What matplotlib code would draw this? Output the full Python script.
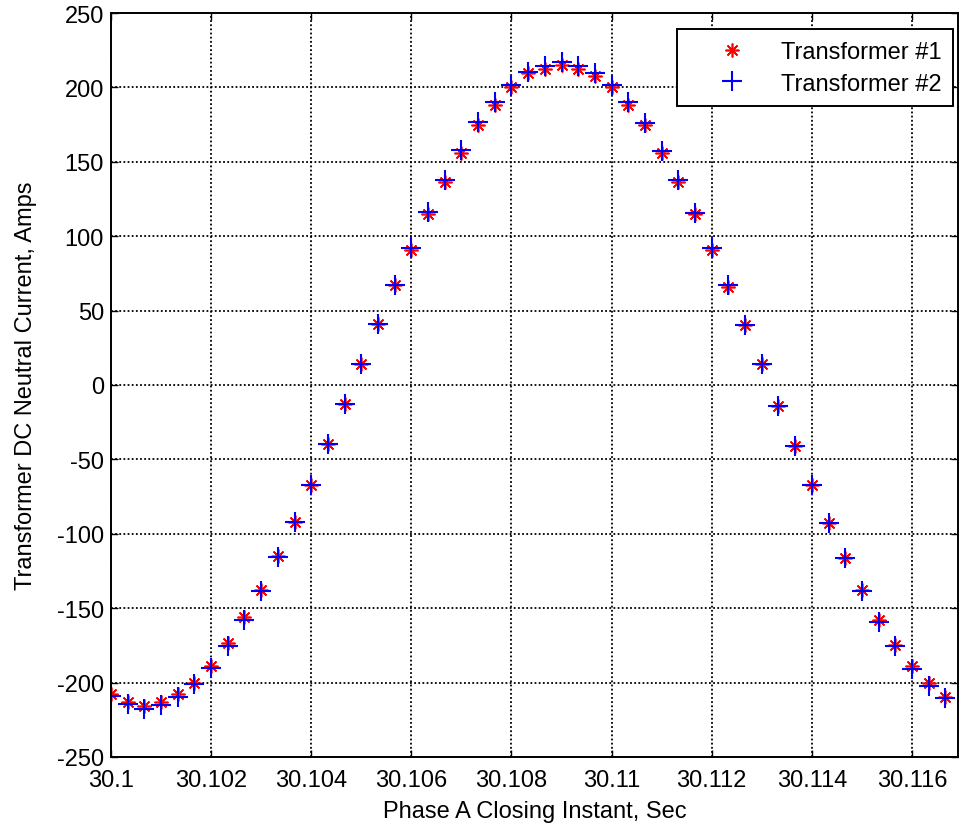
import numpy as np
import matplotlib
matplotlib.use("Agg")
import matplotlib.pyplot as plt

# closing instant, one sample every 1/3000 s over one 60 Hz cycle
t_start = 30.1
n_pts = 51
dt = 1.0 / 3000
closing_instant = t_start + dt * np.arange(n_pts)

# values (Amps)
xfmr1 = [-208, -213, -216, -213, -208, -200.5, -189, -173.5, -156, -138,
         -115, -92, -67, -40, -13, 14, 41, 67, 91, 115,
         136.5, 156, 174.5, 188, 200, 209.5, 212.5, 215, 212.5, 208,
         200, 188.5, 174.5, 156, 136.5, 115, 91, 66, 40, 14,
         -14, -41, -67.5, -93, -116.5, -138, -158, -174.5, -189, -200.5,
         -209.5]
xfmr2 = [-209, -214.5, -217.5, -215, -209.5, -201, -190, -175.5, -158, -138.5,
         -115.5, -92, -67, -40, -13, 14, 41, 67.5, 92, 116.5,
         138, 158, 176.5, 190, 201.5, 210.5, 214.5, 217, 214.5, 210,
         201.5, 190, 176, 157.5, 138, 115.5, 92, 67, 40, 14,
         -14, -41, -67.5, -93, -116.5, -138.5, -159, -175.5, -191, -202,
         -210.5]

xticks = [30.1, 30.102, 30.104, 30.106, 30.108, 30.11, 30.112, 30.114, 30.116]
xtick_labels = ["30.1", "30.102", "30.104", "30.106", "30.108", "30.11",
                "30.112", "30.114", "30.116"]
yticks = [-250, -200, -150, -100, -50, 0, 50, 100, 150, 200, 250]

fs = 17
plt.rcParams['font.family'] = ['Liberation Sans', 'DejaVu Sans']
plt.rcParams['font.size'] = fs
plt.rcParams['axes.unicode_minus'] = False

fig = plt.figure(figsize=(9.61, 8.29), dpi=100)
ax = fig.add_axes([0.1155, 0.0857, 0.8814, 0.8974])

asterisk = (8, 2, 0)
ax.plot(closing_instant, xfmr1, linestyle='none', marker=asterisk,
        markersize=10, markeredgewidth=1.2, color='red', label='Transformer #1')
ax.plot(closing_instant, xfmr2, linestyle='none', marker='+',
        markersize=14, markeredgewidth=1.5, color='blue', label='Transformer #2')

ax.set_xlim(30.1, 30.11692)
ax.set_ylim(-250, 250)
ax.set_xticks(xticks)
ax.set_xticklabels(xtick_labels)
ax.set_yticks(yticks)

ax.grid(True, color='black', linestyle=(0, (1, 1.3)), linewidth=1.3)
ax.tick_params(direction='in', top=True, right=True, length=5, width=1,
               labelsize=fs, pad=5)
ax.tick_params(axis='x', pad=9)
for sp in ax.spines.values():
    sp.set_linewidth(1.4)

ax.set_xlabel('Phase A Closing Instant, Sec', fontsize=fs, labelpad=6)
ax.set_ylabel('Transformer DC Neutral Current, Amps', fontsize=fs, labelpad=14)

leg = ax.legend(loc='upper right', bbox_to_anchor=(0.994, 0.978),
                fontsize=fs, fancybox=False, framealpha=1,
                edgecolor='black', borderaxespad=0.0, handletextpad=0.27,
                handlelength=3.6, borderpad=0.5, labelspacing=0.4)
leg.get_frame().set_linewidth(1.4)

fig.savefig('out.png', dpi=100)
